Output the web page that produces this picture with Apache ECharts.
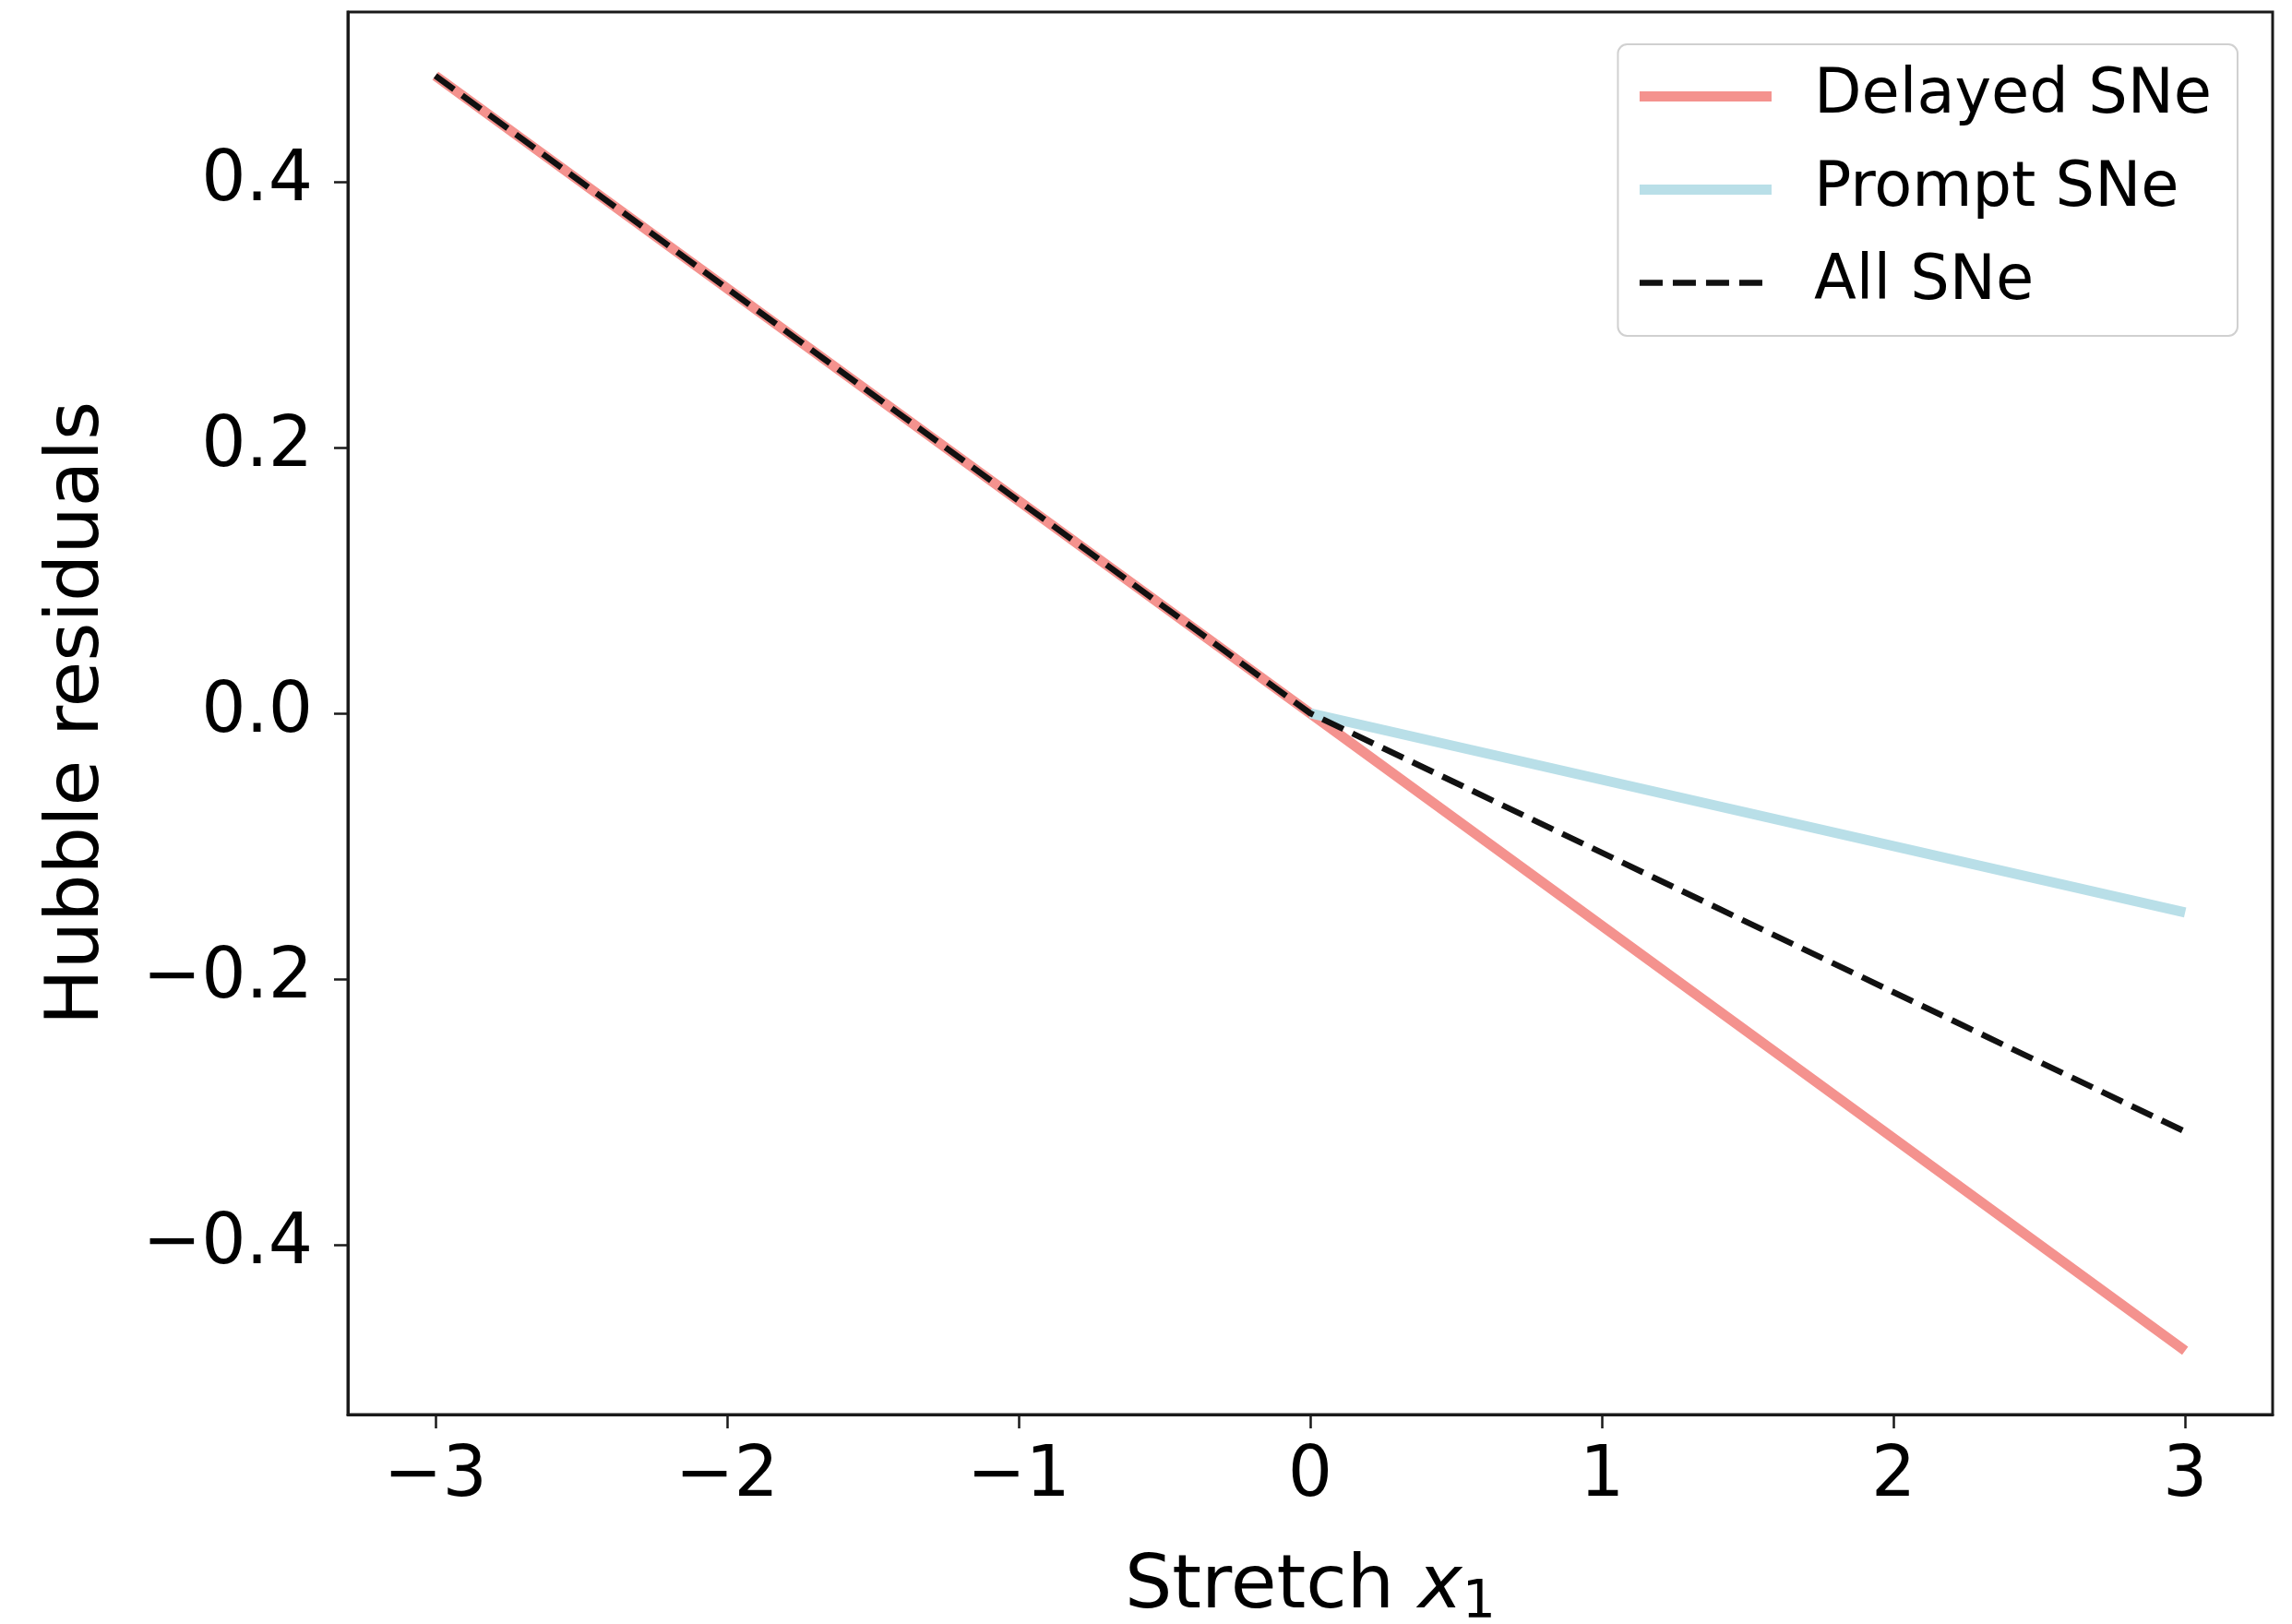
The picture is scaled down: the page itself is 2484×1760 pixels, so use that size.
<!DOCTYPE html>
<html>
<head>
<meta charset="utf-8">
<script src="https://cdn.jsdelivr.net/npm/echarts@6/dist/echarts.min.js"></script>
<style>
html,body{margin:0;padding:0;background:#fff;}
#chart{width:2484px;height:1760px;}
</style>
</head>
<body>
<div id="chart"></div>
<script>
// ---- data ----
const delayedX = [-3, 0, 3];
const delayedY = [0.48, 0, -0.48];
const promptX = [0, 3];
const promptY = [0, -0.15];
const allX = [-3, 0, 3];
const allY = [0.48, 0, -0.315];
const xTicks = [-3, -2, -1, 0, 1, 2, 3];
const yTicks = [-0.4, -0.2, 0.0, 0.2, 0.4];
const seriesNames = ['Delayed SNe', 'Prompt SNe', 'All SNe'];

const pairs = (xs, ys) => xs.map((x, i) => [x, ys[i]]);
const minus = s => String(s).replace('-', '\u2212');
const FONT = 'DejaVu Sans';

const chart = echarts.init(document.getElementById('chart'));
chart.setOption({
  animation: false,
  backgroundColor: '#fff',
  textStyle: { fontFamily: FONT },
  grid: {
    left: 377, right: 21, top: 13, bottom: 227,
    outerBoundsMode: 'none', containLabel: false,
    show: true, borderColor: '#1a1a1a', borderWidth: 3, backgroundColor: 'transparent'
  },
  xAxis: {
    type: 'value', min: -3.3, max: 3.3,
    splitLine: { show: false },
    axisLine: { onZero: false, lineStyle: { color: '#1a1a1a', width: 3 } },
    axisTick: { show: true, length: 15, customValues: xTicks, lineStyle: { color: '#1a1a1a', width: 2.5 } },
    axisLabel: { customValues: xTicks, margin: 30, fontSize: 76, color: '#000', fontFamily: FONT,
      formatter: v => minus(Math.round(v)) },
    name: '{n|Stretch }{i|x}{s|1}',
    nameLocation: 'middle', nameGap: 141,
    nameTextStyle: {
      rich: {
        n: { fontSize: 81, fontFamily: FONT, color: '#000' },
        i: { fontSize: 81, fontFamily: FONT, fontStyle: 'italic', color: '#000' },
        s: { fontSize: 57, fontFamily: FONT, color: '#000', padding: [36, 0, 0, 0] }
      }
    }
  },
  yAxis: {
    type: 'value', min: -0.528, max: 0.528,
    splitLine: { show: false },
    axisLine: { onZero: false, lineStyle: { color: '#1a1a1a', width: 3 } },
    axisTick: { show: true, length: 15, customValues: yTicks, lineStyle: { color: '#1a1a1a', width: 2.5 } },
    axisLabel: { customValues: yTicks, margin: 38, fontSize: 76, color: '#000', fontFamily: FONT,
      formatter: v => minus((Math.abs(v) < 1e-9 ? 0 : v).toFixed(1)) },
    name: 'Hubble residuals',
    nameLocation: 'middle', nameGap: 252, nameRotate: 90,
    nameTextStyle: { fontSize: 81, color: '#000', fontFamily: FONT }
  },
  legend: {
    orient: 'vertical', right: 59, top: 48,
    padding: [23, 28, 24, 18],
    itemWidth: 143, itemHeight: 20, itemGap: 34,
    backgroundColor: 'rgba(255,255,255,0.8)',
    borderColor: '#d0d0d0', borderWidth: 2, borderRadius: 10,
    textStyle: { fontSize: 67, color: '#000', fontFamily: FONT, lineHeight: 60, padding: [0, 0, 0, 41] },
    itemStyle: { opacity: 0 },
    lineStyle: { width: 'inherit' },
    data: seriesNames
  },
  series: [
    {
      name: seriesNames[0], type: 'line', data: pairs(delayedX, delayedY),
      symbol: 'none', lineStyle: { color: '#F4928E', width: 11 }, itemStyle: { color: '#F4928E' }, z: 2
    },
    {
      name: seriesNames[1], type: 'line', data: pairs(promptX, promptY),
      symbol: 'none', lineStyle: { color: '#B9DFE8', width: 11 }, itemStyle: { color: '#B9DFE8' }, z: 3
    },
    {
      name: seriesNames[2], type: 'line', data: pairs(allX, allY),
      symbol: 'none', lineStyle: { color: '#111', width: 6.5, type: [25, 11] }, itemStyle: { color: '#111' }, z: 4
    }
  ]
});
</script>
</body>
</html>
